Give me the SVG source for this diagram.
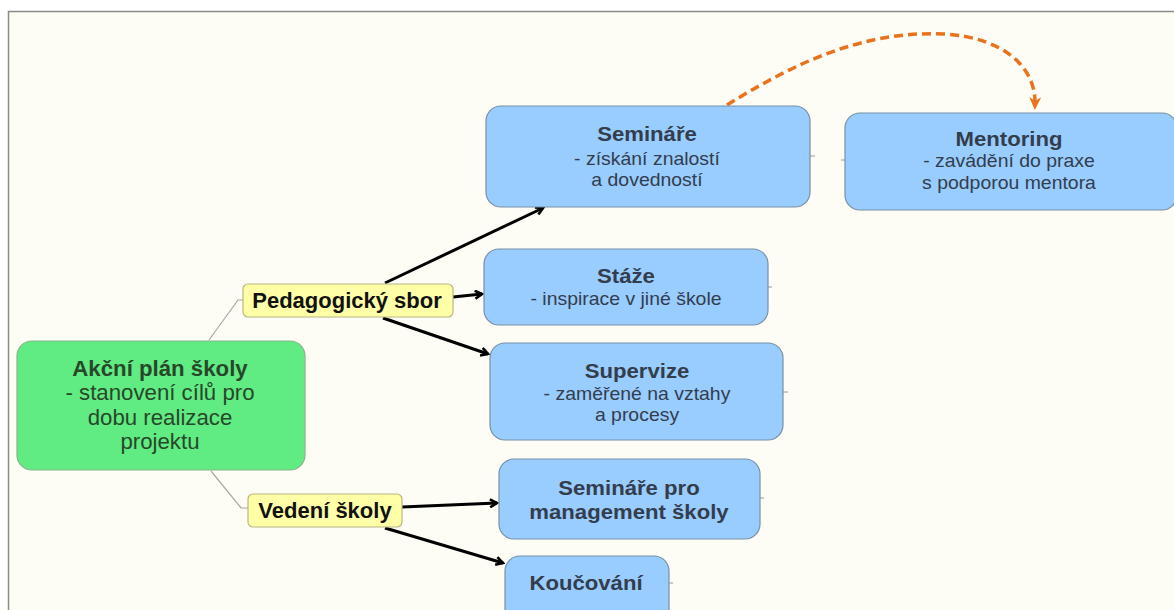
<svg xmlns="http://www.w3.org/2000/svg" width="1174" height="610" viewBox="0 0 1174 610">
<style>
text{font-family:"Liberation Sans",Arial,sans-serif;text-anchor:middle}
.blue{fill:#99CCFF;stroke:#7790a8;stroke-width:1.2}
.yel{fill:#FFFFA8;stroke:#b8b884;stroke-width:1.2}
.bt{fill:#333d4c;font-size:20.5px;font-weight:bold}
.bb{fill:#333d4c;font-size:18px}
.yt{fill:#111;font-size:22px;font-weight:bold}
.gt{fill:#28472a;font-size:21.5px}
.arr{stroke:#000;stroke-width:3;fill:none;marker-end:url(#ah)}
.thin{stroke:#a8a8a0;stroke-width:1.2;fill:none}
.tick{stroke:#9a9a9a;stroke-width:1;fill:none}
</style>
<defs>
<marker id="ah" markerWidth="10" markerHeight="10" refX="8" refY="5" orient="auto" markerUnits="userSpaceOnUse" viewBox="0 0 10 10">
<path d="M1,1 L8,5 L1,9" fill="none" stroke="#000" stroke-width="2.6" stroke-linejoin="miter"/>
</marker>
<marker id="oh" markerWidth="14" markerHeight="14" refX="7" refY="7" orient="auto" markerUnits="userSpaceOnUse" viewBox="0 0 14 14">
<path d="M0,1 L13,7 L0,13 L4,7 Z" fill="#E8731C"/>
</marker>
</defs>
<rect x="0" y="0" width="1174" height="610" fill="#ffffff"/>
<rect x="8.5" y="11.5" width="1170" height="605" fill="#FDFDF5" stroke="#8a8a8a" stroke-width="1.5"/>

<g id="connectors">
<path class="thin" d="M209,340 L238,300 L243,300"/>
<path class="thin" d="M211,471 L241,508 L248,508"/>
<path class="arr" d="M385,283 L543,208"/>
<path class="arr" d="M453,297 L482,294"/>
<path class="arr" d="M383,318 L488,354"/>
<path class="arr" d="M402,507 L497,503"/>
<path class="arr" d="M385,528 L503,563"/>
<path d="M727,105 C790,66 860,30 945,34 C1005,38 1036,68 1035,104" fill="none" stroke="#E8731C" stroke-width="3.5" stroke-dasharray="9,5" marker-end="url(#oh)"/>
<path class="tick" d="M810,156 L815,156"/>
<path class="tick" d="M841,160 L846,160"/>
<path class="tick" d="M768,287 L772,287"/>
<path class="tick" d="M783,392 L788,392"/>
<path class="tick" d="M760,498 L764,498"/>
<path class="tick" d="M669,583 L673,583"/>
</g>

<g id="akcni-plan">
<rect x="17" y="341" width="288" height="129" rx="15" fill="#60EC82" stroke="#86b48c" stroke-width="1.2"/>
<g transform="matrix(1.035,0,0,1,-5.6,0)">
<text x="160" y="376" class="gt" font-weight="bold">Akční plán školy</text>
<text x="160" y="400.5" class="gt">- stanovení cílů pro</text>
<text x="160" y="425" class="gt">dobu realizace</text>
<text x="160" y="449.5" class="gt">projektu</text>
</g>
</g>

<g id="pedagogicky-sbor">
<rect x="243" y="284" width="210" height="33" rx="5" class="yel"/>
<text x="347" y="308" class="yt">Pedagogický sbor</text>
</g>

<g id="vedeni-skoly">
<rect x="248" y="494" width="154" height="33" rx="5" class="yel"/>
<text x="325" y="518" class="yt">Vedení školy</text>
</g>

<g id="seminare">
<rect x="486" y="106" width="324" height="101" rx="15" class="blue"/>
<g transform="matrix(1.08,0,0,1,-51.76,0)">
<text x="647" y="141" class="bt">Semináře</text>
<text x="647" y="165" class="bb">- získání znalostí</text>
<text x="647" y="186" class="bb">a dovedností</text>
</g>
</g>

<g id="mentoring">
<rect x="845" y="113" width="332" height="97" rx="15" class="blue"/>
<g transform="matrix(1.08,0,0,1,-80.72,0)">
<text x="1009" y="146" class="bt">Mentoring</text>
<text x="1009" y="167.5" class="bb">- zavádění do praxe</text>
<text x="1009" y="189" class="bb">s podporou mentora</text>
</g>
</g>

<g id="staze">
<rect x="484" y="249" width="284" height="76" rx="15" class="blue"/>
<g transform="matrix(1.08,0,0,1,-50.08,0)">
<text x="626" y="283.5" class="bt">Stáže</text>
<text x="626" y="305" class="bb">- inspirace v jiné škole</text>
</g>
</g>

<g id="supervize">
<rect x="490" y="343" width="293" height="97" rx="15" class="blue"/>
<g transform="matrix(1.08,0,0,1,-50.96,0)">
<text x="637" y="378" class="bt">Supervize</text>
<text x="637" y="400" class="bb">- zaměřené na vztahy</text>
<text x="637" y="421" class="bb">a procesy</text>
</g>
</g>

<g id="seminare-management">
<rect x="499" y="459" width="261" height="80" rx="15" class="blue"/>
<g transform="matrix(1.08,0,0,1,-50.32,0)">
<text x="629" y="495" class="bt" font-size="21px">Semináře pro</text>
<text x="629" y="519" class="bt" font-size="21px">management školy</text>
</g>
</g>

<g id="koucovani">
<rect x="505" y="556" width="164" height="70" rx="15" class="blue"/>
<g transform="matrix(1.08,0,0,1,-46.88,0)">
<text x="586" y="590" class="bt" font-size="21px">Koučování</text>
</g>
</g>
</svg>
